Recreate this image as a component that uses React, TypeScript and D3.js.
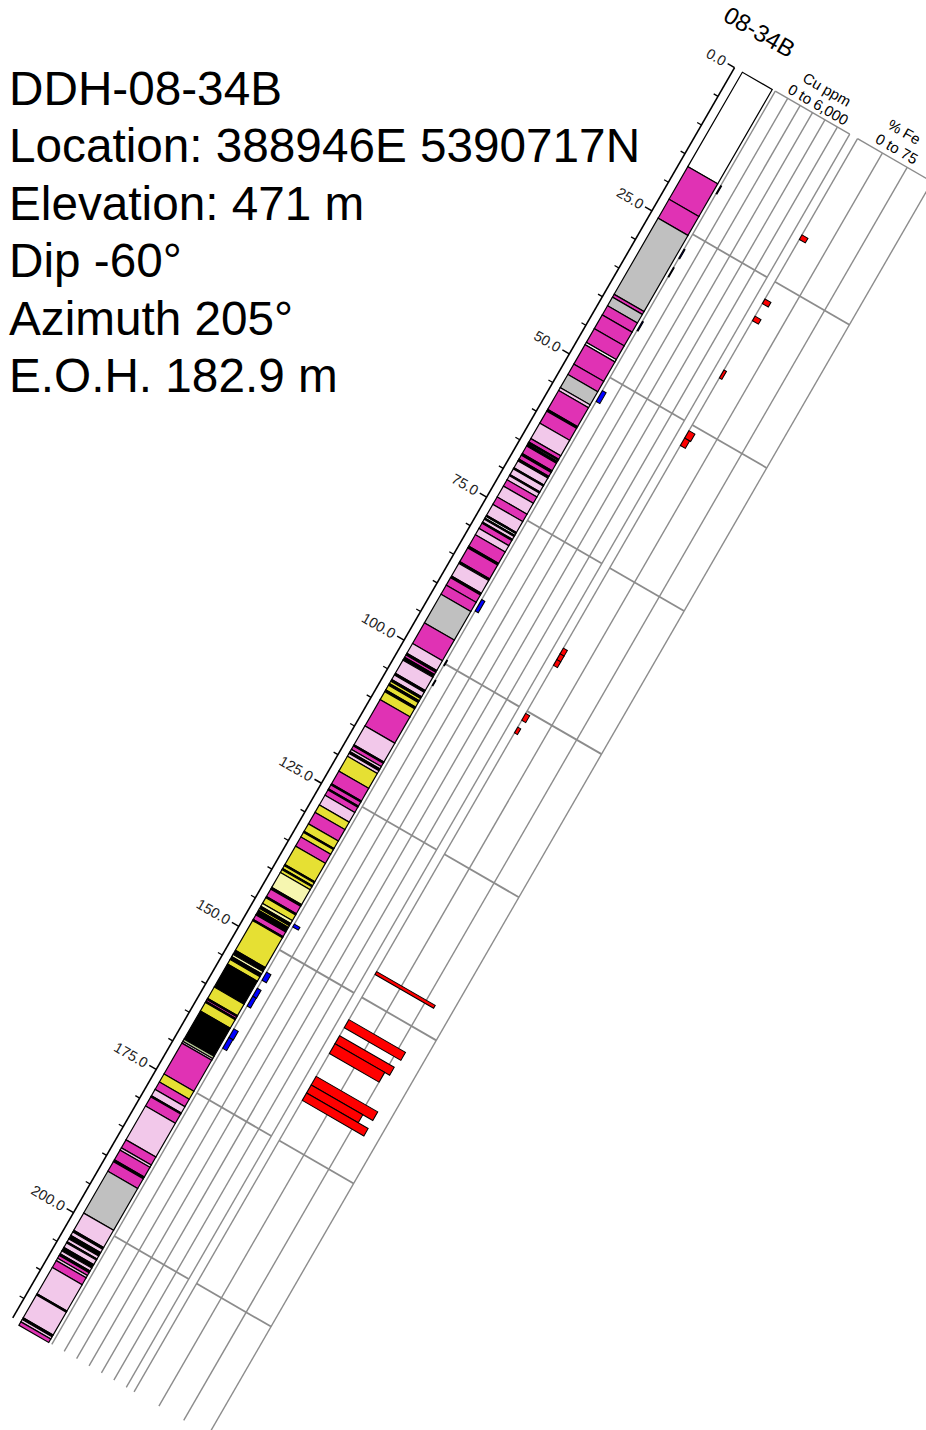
import * as d3 from "d3";

const HOLE_ID = "08-34B";
const INFO_LINES = [
  "DDH-08-34B",
  "Location: 388946E 5390717N",
  "Elevation: 471 m",
  "Dip -60°",
  "Azimuth 205°",
  "E.O.H. 182.9 m",
];

const DEPTH_LABELS = [0, 25, 50, 75, 100, 125, 150, 175, 200];
const LOG_BOTTOM = 218.9;
const AXIS_BOTTOM = 218.4;

// lithology: top of each interval + unit code (interval ends at next top)
const lithTops = [
  0, 16.5, 22.2, 25.5, 38.8, 39.3, 40.8, 42.4, 44.8, 47.2, 47.6, 51.0, 52.8, 55.1, 55.6, 58.9,
  59.2, 61.3, 64.0, 64.6, 64.8, 65.0, 65.3, 66.6, 66.9, 67.6, 67.9, 69.1, 69.3, 70.3, 70.5, 71.2,
  72.3, 74.2, 75.5, 77.4, 77.6, 77.9, 78.1, 78.6, 78.8, 79.7, 80.8, 82.8, 83.1, 85.5, 85.8, 88.0,
  88.3, 89.6, 91.2, 96.2, 99.8, 101.5, 101.8, 102.2, 102.7, 105.0, 105.3, 106.1, 106.4, 106.8,
  107.1, 107.9, 108.2, 109.6, 114.2, 117.5, 117.7, 118.3, 118.7, 119.0, 119.5, 122.1, 124.3,
  124.5, 125.2, 125.4, 126.3, 128.0, 129.3, 131.3, 132.6, 132.8, 133.6, 135.2, 138.4, 138.6,
  139.1, 139.3, 139.8, 142.4, 142.7, 144.0, 144.2, 145.2, 145.7, 146.1, 146.4, 147.2, 148.0,
  148.2, 153.4, 154.1, 154.5, 155.0, 155.8, 159.8, 161.8, 162.0, 162.3, 162.5, 164.0, 168.9,
  169.3, 169.6, 175.0, 176.4, 177.7, 178.8, 179.0, 180.6, 186.5, 187.9, 188.3, 190.0, 190.3,
  192.0, 199.3, 202.3, 202.6, 203.2, 203.8, 204.3, 204.5, 205.3, 205.9, 206.4, 206.7, 207.2,
  207.6, 208.8, 213.4, 213.6, 217.6, 217.9, 218.3,
];
const lithCodes = [
  "W", "M", "M", "G", "M", "G", "M", "M", "M", "W", "M", "M", "G", "P", "M", "K",
  "M", "P", "M", "K", "P", "K", "M", "K", "M", "K", "P", "K", "P", "K", "P", "M",
  "P", "M", "P", "K", "W", "K", "P", "K", "M", "P", "M", "K", "M", "K", "P", "K",
  "M", "M", "G", "M", "P", "K", "M", "K", "P", "K", "P", "K", "Y", "K",
  "Y", "K", "Y", "M", "P", "K", "M", "P", "K", "P", "Y", "M", "K",
  "M", "K", "M", "P", "Y", "M", "Y", "K", "Y", "M", "Y", "K", "Y",
  "K", "Y", "PY", "K", "M", "K", "Y", "PY", "K", "Y", "K", "M", "K",
  "Y", "K", "PY", "K", "Y", "K", "Y", "K", "M", "K", "Y", "K", "GN",
  "P", "M", "Y", "M", "P", "K", "M", "P", "M", "P", "M", "K", "M",
  "G", "P", "K", "P", "K", "P", "K", "P", "K", "P", "K", "M", "P",
  "M", "P", "K", "P", "K", "P", "M",
];
const LITH_COLORS: Record<string, string> = {
  W: "#ffffff",
  M: "#e032b4",
  P: "#f2c8ea",
  G: "#c0c0c0",
  Y: "#e6e033",
  PY: "#f6f6b0",
  K: "#000000",
  GN: "#b8c898",
};

// Cu assays (ppm)
const cuFrom = [16.5, 27.6, 30.8, 40.2, 52.3, 88.8, 99.4, 102.9, 145.5, 153.9, 156.7, 158.1, 163.8, 165.3];
const cuTo = [17.9, 29.2, 32.4, 41.8, 54.2, 90.8, 100.3, 103.8, 146.0, 155.3, 158.1, 159.8, 165.3, 167.2];
const cuPpm = [70, 80, 60, 80, 300, 250, 60, 60, 450, 350, 300, 280, 350, 320];

// Fe assays (%)
const feFrom = [16.8, 28.0, 31.0, 40.4, 51.0, 52.3, 89.0, 90.0, 91.0, 100.4, 102.8, 145.5, 153.9, 156.7, 158.1, 163.8, 165.3, 166.7];
const feTo = [17.6, 28.8, 31.8, 41.8, 52.3, 53.6, 90.0, 91.0, 92.0, 101.6, 103.8, 146.0, 155.3, 158.1, 159.8, 165.3, 166.7, 168.0];
const fePct = [6, 6, 6, 2.5, 6, 5, 4, 4, 4, 4, 3, 59, 57, 55, 50, 62, 52, 62];

const CU_GRID = [0, 1000, 2000, 3000, 4000, 5000, 6000];
const FE_GRID = [0, 25, 50, 75];

const FONT = "'Liberation Sans', Arial, sans-serif";
const GRID_COLOR = "#8c8c8c";

export default function App() {
  const y = d3.scaleLinear().domain([0, 100]).range([0, 661]);
  const cuX = d3.scaleLinear().domain([0, 6000]).range([54, 140]);
  const feX = d3.scaleLinear().domain([0, 75]).range([149, 235]);
  const AXIS_X = 7;
  const LITH_L = 16;
  const LITH_R = 50.5;

  const gridDepths = d3.range(25, 201, 25);
  const minorTicks = d3.range(0, AXIS_BOTTOM, 5).filter((d) => d % 25 !== 0);

  const lith = lithCodes.map((code, i) => ({
    code,
    from: lithTops[i],
    to: i + 1 < lithTops.length ? lithTops[i + 1] : LOG_BOTTOM,
  }));

  const column = (scale: d3.ScaleLinear<number, number>, ticks: number[], key: string) => {
    const [x0, x1] = scale.range();
    return (
      <g key={key} stroke={GRID_COLOR} strokeWidth={1.4} fill="none">
        {ticks.map((t) => (
          <line key={`v${t}`} x1={scale(t)} x2={scale(t)} y1={y(0)} y2={y(LOG_BOTTOM)} />
        ))}
        <line x1={x0} x2={x1} y1={y(0)} y2={y(0)} />
        {gridDepths.map((d) => (
          <line key={`h${d}`} x1={x0} x2={x1} y1={y(d)} y2={y(d)} strokeWidth={1.8} />
        ))}
      </g>
    );
  };

  return (
    <svg
      width={926}
      height={1430}
      style={{ position: "absolute", left: 0, top: 0, background: "#fff" }}
      fontFamily={FONT}
    >
      {INFO_LINES.map((t, i) => (
        <text key={t} x={9} y={105 + i * 57.4} fontSize={47.7} fill="#000">
          {t}
        </text>
      ))}

      <g transform="translate(728.5,64.2) rotate(30)">
        <text x={-28} y={-35} fontSize={24} fill="#000">
          {HOLE_ID}
        </text>

        {/* data columns grid */}
        {column(cuX, CU_GRID, "cu")}
        {column(feX, FE_GRID, "fe")}

        <g fontSize={15} fill="#000" textAnchor="middle">
          <text x={98} y={-22}>Cu ppm</text>
          <text x={98} y={-4.5}>0 to 6,000</text>
          <text x={186} y={-24}>% Fe</text>
          <text x={188} y={-5.5}>0 to 75</text>
        </g>

        {/* Cu bars */}
        {cuPpm.map((v, i) => (
          <rect
            key={`cu${i}`}
            x={cuX(0)}
            y={y(cuFrom[i])}
            width={cuX(v) - cuX(0)}
            height={y(cuTo[i]) - y(cuFrom[i])}
            fill="#0000ff"
            stroke="#000"
            strokeWidth={1}
          />
        ))}

        {/* Fe bars */}
        {fePct.map((v, i) => (
          <rect
            key={`fe${i}`}
            x={feX(0)}
            y={y(feFrom[i])}
            width={feX(v) - feX(0)}
            height={y(feTo[i]) - y(feFrom[i])}
            fill="#ff0000"
            stroke="#000"
            strokeWidth={1}
          />
        ))}

        {/* lithology */}
        {lith.map((l, i) => (
          <rect
            key={`l${i}`}
            x={LITH_L}
            y={y(l.from)}
            width={LITH_R - LITH_L}
            height={y(l.to) - y(l.from)}
            fill={LITH_COLORS[l.code]}
            stroke="#000"
            strokeWidth={1.2}
          />
        ))}

        {/* depth axis */}
        <line x1={AXIS_X} x2={AXIS_X} y1={y(0)} y2={y(AXIS_BOTTOM)} stroke="#000" strokeWidth={1.6} />
        {minorTicks.map((d) => (
          <line key={`m${d}`} x1={AXIS_X} x2={AXIS_X - 5} y1={y(d)} y2={y(d)} stroke="#000" strokeWidth={1.3} />
        ))}
        {DEPTH_LABELS.map((d) => (
          <g key={`t${d}`}>
            <line x1={AXIS_X} x2={AXIS_X - 8} y1={y(d)} y2={y(d)} stroke="#000" strokeWidth={1.5} />
            <text x={AXIS_X - 11} y={y(d)} dy="0.35em" fontSize={14.5} fill="#222" textAnchor="end">
              {d.toFixed(1)}
            </text>
          </g>
        ))}
      </g>
    </svg>
  );
}
